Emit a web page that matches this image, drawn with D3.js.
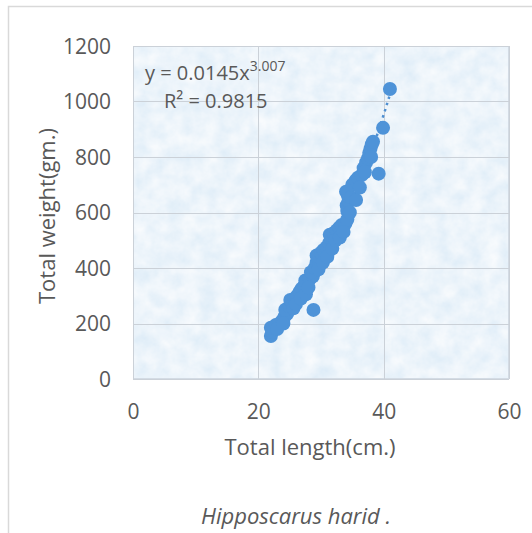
<!DOCTYPE html>
<html><head><meta charset="utf-8">
<script src="https://cdn.jsdelivr.net/npm/d3@7"></script>
<style>
html,body{margin:0;padding:0;background:#fff;}
svg{display:block;}
text{font-family:"Open Sans",sans-serif;fill:#595959;}
</style></head>
<body>
<svg id="c" width="532" height="533"></svg>
<script>
// ---- data ----
const lengths = [22.0,22.2,22.0,22.8,23.4,23.8,24.2,24.6,24.3,25.0,25.4,25.1,25.8,26.2,26.6,26.9,27.3,27.8,27.5,28.2,28.7,28.4,28.8,29.0,29.3,29.6,29.3,30.0,30.4,30.9,31.3,31.6,31.4,32.0,32.5,32.9,33.3,33.9,34.2,34.2,34.1,34.4,34.3,34.0,34.8,35.6,35.0,35.5,35.9,36.5,36.8,37.2,37.5,37.7,37.9,38.1,38.3,39.2,39.9,41.0,
  23.0,24.0,25.6,26.0,26.8,27.6,28.0,29.6,30.3,31.0,31.8,32.3,33.0,33.6,34.6,36.2,37.0,38.0];
const weights = [155,170,185,195,200,210,225,235,250,262,275,285,290,300,315,325,335,345,355,360,370,385,249,400,420,435,445,455,465,475,490,505,520,525,535,545,555,560,575,605,625,640,660,675,655,645,700,715,725,735,760,780,795,815,830,845,855,740,905,1045,
  180,200,255,270,290,305,330,395,420,440,470,500,510,530,600,690,745,800];
const xTicks = [0,20,40,60];
const yTicks = [0,200,400,600,800,1000,1200];
const coefA = 0.0145, coefB = 3.007;
const eqLabel = "y = 0.0145x";
const eqExp = "3.007";
const r2Label = "R² = 0.9815";
const xTitle = "Total length(cm.)";
const yTitle = "Total weight(gm.)";
const caption = "Hipposcarus harid .";

const svg = d3.select("#c");
const L = 133, R = 509, T = 46, B = 379;
const x = d3.scaleLinear().domain([0,60]).range([L,R]);
const y = d3.scaleLinear().domain([0,1200]).range([B,T]);

// outer frame
svg.append("rect").attr("x",8.5).attr("y",6.5).attr("width",600).attr("height",600)
  .attr("fill","#fff").attr("stroke","#d9d9d9").attr("stroke-width",1.5);

// texture
const defs = svg.append("defs");
const f = defs.append("filter").attr("id","tex").attr("x",0).attr("y",0).attr("width",1).attr("height",1);
f.append("feTurbulence").attr("type","fractalNoise").attr("baseFrequency","0.06").attr("numOctaves",4).attr("seed",11);
f.append("feColorMatrix").attr("type","matrix")
  .attr("values","0.26 0 0 0 0.71  0.15 0 0 0 0.83  0.06 0 0 0 0.93  0 0 0 0 1");
svg.append("rect").attr("x",L).attr("y",T).attr("width",R-L).attr("height",B-T)
  .attr("filter","url(#tex)");
svg.append("rect").attr("x",L+0.5).attr("y",T+0.5).attr("width",R-L-1).attr("height",B-T-1)
  .attr("fill","none").attr("stroke","#d3dbe4").attr("stroke-width",1);

// grid
const g = svg.append("g");
g.selectAll("line.h").data(yTicks).enter().append("line")
  .attr("x1",L).attr("x2",R).attr("y1",d=>Math.round(y(d))+0.5).attr("y2",d=>Math.round(y(d))+0.5)
  .attr("stroke","#cbd1d8").attr("stroke-width",1);
g.selectAll("line.v").data(xTicks).enter().append("line")
  .attr("y1",T).attr("y2",B).attr("x1",d=>Math.round(x(d))+0.5).attr("x2",d=>Math.round(x(d))+0.5)
  .attr("stroke","#cbd1d8").attr("stroke-width",1);

// axes (labels only)
const xa = svg.append("g").attr("transform",`translate(0,${B})`)
  .call(d3.axisBottom(x).tickValues(xTicks).tickSize(0).tickPadding(0).tickFormat(d3.format("d")));
xa.select(".domain").remove();
xa.selectAll("text").attr("dy",0).attr("y",40).style("font-size","21px").style("fill","#595959").style("font-family","'Open Sans',sans-serif");
const ya = svg.append("g").attr("transform",`translate(${L},0)`)
  .call(d3.axisLeft(y).tickValues(yTicks).tickSize(0).tickPadding(0).tickFormat(d3.format("d")));
ya.select(".domain").remove();
ya.selectAll("text").attr("x",-22).attr("dy","0.35em").style("font-size","21px").style("fill","#595959").style("font-family","'Open Sans',sans-serif");

// trendline
const tx = d3.range(d3.min(lengths), d3.max(lengths)+0.001, 0.1);
svg.append("path").datum(tx)
  .attr("d", d3.line().x(d=>x(d)).y(d=>y(coefA*Math.pow(d,coefB))))
  .attr("fill","none").attr("stroke","#4f8fd1").attr("stroke-width",2.5).attr("stroke-dasharray","2.5,4");

// points
svg.append("g").selectAll("circle").data(lengths.map((l,i)=>[l,weights[i]])).enter().append("circle")
  .attr("cx",d=>x(d[0])).attr("cy",d=>y(d[1])).attr("r",7).attr("fill","#4e93d8");

// equation
const eq = svg.append("text").attr("x",145).attr("y",80).style("font-size","20px");
eq.append("tspan").text(eqLabel);
eq.append("tspan").attr("dy",-9).style("font-size","14px").text(eqExp);
svg.append("text").attr("x",164).attr("y",108).style("font-size","20px").text(r2Label);

// titles
svg.append("text").attr("x",310).attr("y",455).attr("text-anchor","middle").style("font-size","22px").text(xTitle);
svg.append("text").attr("transform",`translate(55,216) rotate(-90)`).attr("text-anchor","middle").style("font-size","22px").text(yTitle);
svg.append("text").attr("x",296).attr("y",524).attr("text-anchor","middle").style("font-size","22px").style("font-style","italic").text(caption);
</script>
</body></html>
